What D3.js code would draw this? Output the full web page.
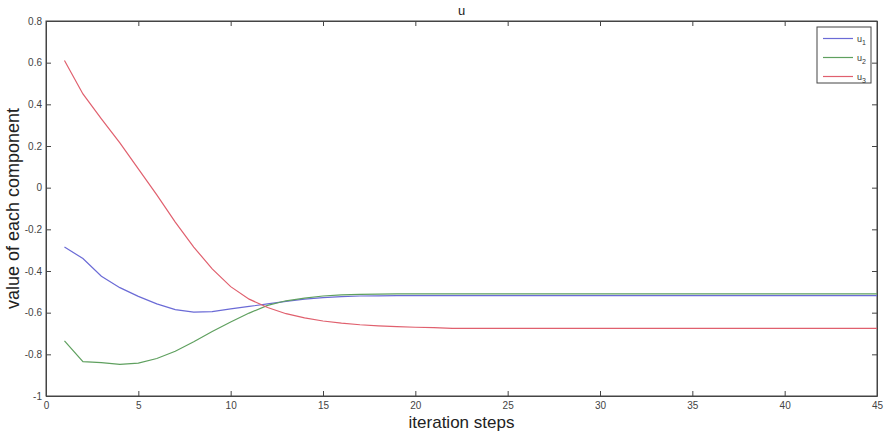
<!DOCTYPE html>
<html><head><meta charset="utf-8">
<script src="https://cdn.jsdelivr.net/npm/d3@7"></script>
<style>body{margin:0;background:#fff}svg{display:block}</style>
</head><body>
<script>
const steps = d3.range(1, 46);
const u1 = [-0.285,-0.34,-0.425,-0.48,-0.522,-0.558,-0.585,-0.597,-0.595,-0.582,-0.57,-0.558,-0.546,-0.535,-0.528,-0.523,-0.52,-0.519,-0.518,-0.518,-0.518,-0.518,-0.518,-0.518,-0.518,-0.518,-0.518,-0.518,-0.518,-0.518,-0.518,-0.518,-0.518,-0.518,-0.518,-0.518,-0.518,-0.518,-0.518,-0.518,-0.518,-0.518,-0.518,-0.518,-0.518];
const u2 = [-0.735,-0.835,-0.84,-0.848,-0.842,-0.82,-0.785,-0.74,-0.69,-0.645,-0.602,-0.565,-0.543,-0.53,-0.52,-0.515,-0.512,-0.511,-0.51,-0.51,-0.51,-0.51,-0.51,-0.51,-0.51,-0.51,-0.51,-0.51,-0.51,-0.51,-0.51,-0.51,-0.51,-0.51,-0.51,-0.51,-0.51,-0.51,-0.51,-0.51,-0.51,-0.51,-0.51,-0.51,-0.51];
const u3 = [0.61,0.45,0.33,0.215,0.09,-0.035,-0.165,-0.285,-0.39,-0.475,-0.535,-0.575,-0.605,-0.625,-0.64,-0.65,-0.658,-0.663,-0.667,-0.67,-0.672,-0.675,-0.675,-0.675,-0.675,-0.675,-0.675,-0.675,-0.675,-0.675,-0.675,-0.675,-0.675,-0.675,-0.675,-0.675,-0.675,-0.675,-0.675,-0.675,-0.675,-0.675,-0.675,-0.675,-0.675];
const seriesNames = ["u1","u2","u3"];
const seriesColors = ["#6b6bd6","#5fa05f","#e0606e"];
const xTicks = [0,5,10,15,20,25,30,35,40,45];
const yTicks = [-1,-0.8,-0.6,-0.4,-0.2,0,0.2,0.4,0.6,0.8];
const title = "u", xLabel = "iteration steps", yLabel = "value of each component";

const W = 885, H = 436;
const m = {l:46, r:8, t:21, b:40};
const svg = d3.select("body").append("svg").attr("width", W).attr("height", H);
const x = d3.scaleLinear().domain([0,45]).range([m.l, W - m.r]);
const y = d3.scaleLinear().domain([-1,0.8]).range([H - m.b, m.t]);
const axisColor = "#444";
const font = "'Liberation Sans',Arial,sans-serif";
const fmt = d => String(+(+d).toFixed(1));

// frame
svg.append("rect").attr("x", x(0)).attr("y", y(0.8)).attr("width", x(45)-x(0)).attr("height", y(-1)-y(0.8))
  .attr("fill","#fff").attr("stroke", axisColor).attr("stroke-width",1);

// axes with inward ticks
const gb = svg.append("g").attr("transform", `translate(0,${y(-1)})`)
  .call(d3.axisBottom(x).tickValues(xTicks).tickSizeInner(-5).tickSizeOuter(0).tickPadding(6).tickFormat(fmt));
const gt = svg.append("g").attr("transform", `translate(0,${y(0.8)})`)
  .call(d3.axisTop(x).tickValues(xTicks).tickSizeInner(-5).tickSizeOuter(0).tickFormat(""));
const gl = svg.append("g").attr("transform", `translate(${x(0)},0)`)
  .call(d3.axisLeft(y).tickValues(yTicks).tickSizeInner(-5).tickSizeOuter(0).tickPadding(4).tickFormat(fmt));
const gr = svg.append("g").attr("transform", `translate(${x(45)},0)`)
  .call(d3.axisRight(y).tickValues(yTicks).tickSizeInner(-5).tickSizeOuter(0).tickFormat(""));
[gb,gt,gl,gr].forEach(g => {
  g.select(".domain").attr("stroke", axisColor);
  g.selectAll(".tick line").attr("stroke", axisColor);
  g.selectAll("text").attr("fill","#444").style("font-family", font).style("font-size","10px");
});

// lines
const line = d3.line().x((d,i) => x(steps[i])).y(d => y(d));
[u1,u2,u3].forEach((s,i) => {
  svg.append("path").datum(s).attr("d", line).attr("fill","none")
    .attr("stroke", seriesColors[i]).attr("stroke-width",1.2);
});

// title and labels
svg.append("text").attr("x", (x(0)+x(45))/2).attr("y", 15).attr("text-anchor","middle")
  .style("font-family",font).style("font-size","13px").attr("fill","#222").text(title);
svg.append("text").attr("x", (x(0)+x(45))/2).attr("y", 428).attr("text-anchor","middle")
  .style("font-family",font).style("font-size","17px").attr("fill","#222").text(xLabel);
svg.append("text").attr("transform", `translate(19,${(y(-1)+y(0.8))/2}) rotate(-90)`).attr("text-anchor","middle")
  .style("font-family",font).style("font-size","18px").attr("fill","#222").text(yLabel);

// legend
const lg = svg.append("g");
lg.append("rect").attr("x", 817).attr("y", 27).attr("width", 54).attr("height", 56)
  .attr("fill","#fff").attr("stroke", axisColor).attr("stroke-width",1);
seriesNames.forEach((n,i) => {
  const yy = 38.5 + i*19;
  lg.append("line").attr("x1", 823).attr("x2", 853).attr("y1", yy).attr("y2", yy)
    .attr("stroke", seriesColors[i]).attr("stroke-width",1.2);
  const t = lg.append("text").attr("x", 857).attr("y", yy+3).style("font-family",font)
    .style("font-size","9px").attr("fill","#333");
  t.append("tspan").text(n.charAt(0));
  t.append("tspan").attr("dy", 3).style("font-size","7px").text(n.slice(1));
});
</script>
</body></html>
